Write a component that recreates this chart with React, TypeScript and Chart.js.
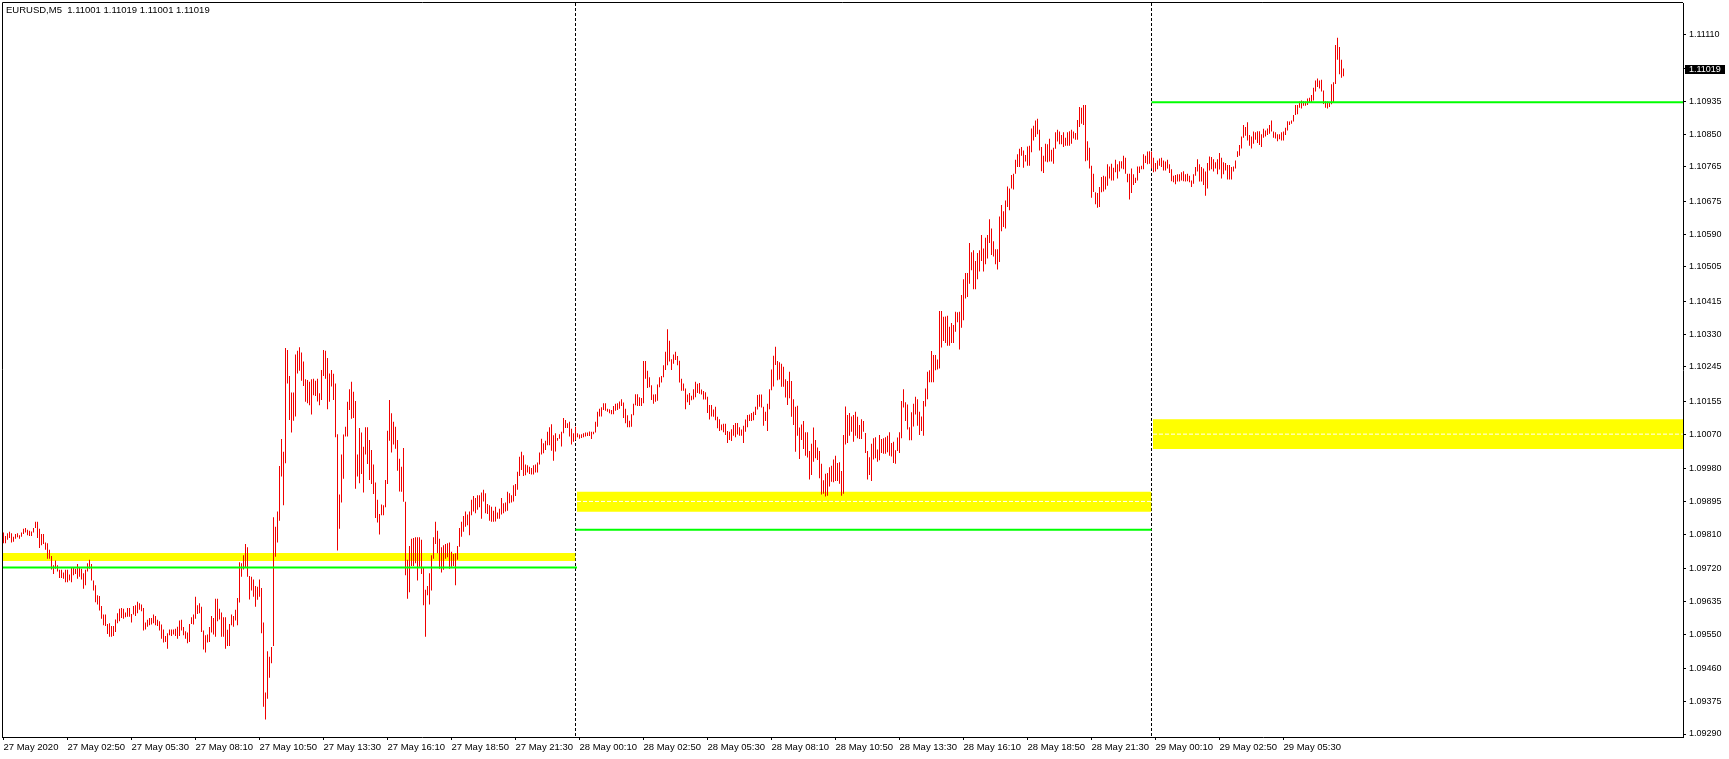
import { useEffect, useRef } from "react";
import { Chart, registerables } from "chart.js";

Chart.register(...registerables);

const TITLE = "EURUSD,M5  1.11001 1.11019 1.11001 1.11019";
const LAST_PRICE = 1.11019;
// bar values are in points (0.00001) above BASE_PRICE
const BASE_PRICE = 1.09;
const POINT = 0.00001;

// bar index = number of 5-minute bars since 27 May 2020 00:00
const day27Start = 2;
const day27High = [
  814,805,812,816,812,803,810,812,807,814,
  824,826,821,819,817,826,842,842,824,810,
  810,788,786,769,753,729,741,729,717,717,
  710,717,717,705,722,724,720,732,722,720,
  708,717,734,743,732,689,677,651,649,623,
  601,601,576,578,571,571,588,604,616,618,
  616,606,618,618,602,623,625,634,630,627,
  618,580,587,592,592,601,597,587,583,575,
  562,545,552,562,562,562,564,569,585,587,
  568,557,554,576,594,601,647,625,630,621,
  559,547,549,568,597,592,642,642,616,606,
  594,594,561,576,601,597,613,644,737,734,
  755,784,776,701,699,692,675,673,692,670,
  580,398,505,491,516,854,829,869,987,1057,
  1024,1294,1289,1221,1178,1178,1277,1287,1296,1282,
  1259,1213,1211,1206,1213,1214,1209,1214,1176,1237,
  1289,1287,1268,1228,1237,1227,1202,1070,913,1017,
  1069,1089,1154,1187,1206,1180,1156,1017,1086,1074,
  1037,1088,1088,1055,1029,991,944,899,862,887,
  885,951,1079,1159,1124,1102,1089,1055,1006,985,
  1034,894,743,779,798,800,802,802,802,795,
  724,665,675,708,755,802,842,819,798,776,
  781,784,786,788,764,758,760,779,826,842,
  857,869,861,869,899,909,904,911,911,918,
  925,916,888,885,881,871,881,866,876,904,
  890,892,920,916,911,937,940,972,1011,1024,
  1015,991,989,985,982,989,991,996,1022,1058,
  1046,1053,1076,1088,1096,1067,1072,1060,1070,1076,
  1112,1107,1098,1102,1084,1072,
];
const day27Low = [
  786,786,795,800,788,790,798,802,798,803,
  810,814,807,805,805,814,826,800,774,781,
  784,769,746,746,718,706,720,713,696,696,
  694,685,685,689,685,703,706,694,699,692,
  668,677,713,720,689,663,633,627,611,590,
  573,571,550,543,543,545,555,578,583,592,
  590,594,595,595,580,601,597,604,613,609,
  559,562,569,573,575,578,573,571,559,538,
  528,529,512,547,545,549,545,538,545,559,
  547,538,526,529,576,575,590,602,604,555,
  510,502,528,529,554,549,543,583,588,543,
  543,512,519,519,573,569,585,573,632,699,
  718,724,699,640,663,647,621,639,647,552,
  361,328,382,436,474,519,751,788,845,960,
  885,994,1202,1107,1074,1105,1116,1228,1235,1209,
  1195,1154,1150,1145,1121,1171,1169,1155,1145,1159,
  1221,1214,1135,1154,1194,1159,1062,767,824,892,
  954,1064,1064,1133,1110,1112,928,960,942,966,
  918,1017,992,951,940,914,852,840,809,859,
  859,880,940,1053,1022,1043,1032,975,921,920,
  894,703,642,659,727,727,734,689,725,706,
  625,543,651,627,663,746,784,760,720,710,
  717,746,750,720,725,727,677,743,777,803,
  816,829,833,807,859,869,864,873,880,850,
  895,864,862,845,842,842,843,850,850,861,
  864,869,871,890,892,895,909,925,961,977,
  961,963,970,966,965,965,970,970,991,1017,
  1020,1029,1041,1041,1027,1001,1025,1053,1058,1038,
  1072,1086,1086,1064,1043,1050,
];

const day28Start = 288;
const day28High = [
  1089,1072,1069,1070,1072,1074,1074,1077,1076,1076,
  1102,1128,1136,1140,1150,1150,1136,1135,1133,1143,
  1149,1150,1155,1161,1152,1136,1119,1105,1122,1149,
  1174,1174,1166,1164,1260,1260,1235,1218,1197,1173,
  1174,1199,1218,1221,1249,1284,1343,1313,1265,1277,
  1284,1273,1261,1214,1202,1189,1173,1177,1170,1187,
  1206,1201,1203,1186,1182,1179,1167,1146,1146,1134,
  1141,1115,1109,1095,1097,1097,1078,1076,1083,1094,
  1099,1099,1088,1082,1092,1108,1120,1121,1125,1128,
  1141,1172,1173,1173,1141,1128,1149,1187,1238,1274,
  1297,1260,1257,1253,1245,1213,1208,1232,1208,1161,
  1141,1144,1087,1095,1104,1075,1075,1026,1045,1087,
  1055,1035,1026,993,950,967,969,984,988,1004,
  1014,995,997,974,1068,1142,1120,1125,1116,1120,
  1128,1115,1094,1109,1104,1073,1026,1010,1045,1059,
  1062,1030,1068,1057,1059,1062,1066,1075,1047,1050,
  1028,1061,1075,1156,1187,1153,1147,1088,1127,1149,
  1167,1161,1128,1116,1156,1189,1232,1236,1286,1276,
  1276,1264,1390,1390,1375,1376,1378,1349,1359,1354,
  1388,1387,1388,1432,1473,1489,1489,1567,1543,1548,
  1520,1541,1548,1588,1553,1581,1588,1629,1605,1572,
  1551,1551,1636,1666,1650,1678,1714,1709,1744,1747,
  1784,1798,1812,1817,1808,1796,1818,1820,1865,1872,
  1886,1890,1862,1817,1794,1825,1824,1838,1810,1815,
  1855,1862,1857,1848,1855,1841,1855,1858,1862,1857,
  1853,1887,1921,1919,1926,1926,1832,1815,1768,1747,
  1699,1697,1713,1739,1742,1740,1772,1766,1773,1763,
  1784,1772,1780,1780,1794,1789,1747,1747,1761,1746,
  1737,1766,1766,1768,1798,1794,1805,1806,
];
const day28Low = [
  1055,1062,1058,1060,1062,1064,1065,1065,1057,1070,
  1074,1089,1116,1116,1133,1131,1128,1124,1122,1122,
  1131,1133,1136,1143,1112,1098,1088,1088,1089,1119,
  1145,1143,1143,1143,1150,1214,1190,1192,1159,1149,
  1154,1157,1192,1204,1218,1237,1249,1259,1237,1253,
  1263,1249,1204,1183,1183,1135,1153,1146,1158,1160,
  1166,1177,1175,1173,1160,1160,1125,1108,1116,1115,
  1106,1085,1078,1080,1075,1068,1047,1055,1052,1066,
  1062,1069,1066,1066,1047,1076,1088,1104,1104,1106,
  1120,1134,1141,1139,1092,1104,1078,1135,1184,1194,
  1250,1210,1212,1193,1193,1165,1146,1163,1115,1094,
  1024,1066,1005,1055,1031,1014,1009,952,964,998,
  1007,1003,955,913,915,908,910,934,946,945,
  948,948,941,910,915,1043,1047,1066,1076,1050,
  1066,1059,1057,1057,1076,1021,952,964,948,1004,
  1007,998,1002,1021,1019,1019,1023,1014,1012,995,
  993,1026,1021,1059,1139,1104,1082,1054,1054,1090,
  1121,1092,1068,1078,1066,1142,1161,1205,1205,1205,
  1236,1238,1241,1295,1312,1307,1300,1300,1307,1307,
  1336,1361,1290,1347,1366,1423,1427,1461,1496,1447,
  1447,1473,1493,1520,1493,1512,1527,1567,1536,1532,
  1512,1498,1518,1598,1609,1605,1661,1652,1709,1706,
  1747,1765,1765,1794,1763,1779,1768,1768,1803,1834,
  1843,1850,1808,1754,1749,1779,1777,1779,1779,1773,
  1812,1831,1824,1824,1817,1820,1820,1820,1825,1839,
  1836,1836,1869,1877,1874,1780,1782,1761,1685,1700,
  1668,1659,1661,1699,1701,1706,1716,1735,1730,1730,
  1751,1735,1753,1761,1759,1747,1725,1680,1697,1718,
  1723,1730,1749,1759,1759,1775,1772,1773,
];

const day29Start = 576;
const day29High = [
  1805,1789,1775,1782,1787,1789,1782,1779,1784,1772,
  1759,1742,1744,1746,1746,1751,1754,1746,1747,1742,
  1730,1746,1765,1785,1772,1765,1761,1753,1775,1792,
  1791,1785,1777,1785,1801,1789,1777,1775,1770,1770,
  1765,1766,1782,1806,1822,1844,1874,1869,1881,1848,
  1844,1857,1855,1858,1858,1850,1864,1860,1865,1874,
  1886,1857,1855,1850,1850,1855,1857,1867,1884,1883,
  1886,1900,1926,1926,1935,1938,1936,1935,1943,1945,
  1952,1971,1990,1995,1990,1992,1964,1936,1935,1933,
  1980,1985,2082,2101,2077,2044,2021,
];
const day29Low = [
  1761,1751,1753,1759,1768,1765,1756,1756,1761,1749,
  1728,1725,1720,1727,1727,1730,1728,1727,1728,1725,
  1713,1721,1742,1753,1727,1727,1718,1690,1709,1756,
  1759,1753,1761,1746,1758,1735,1746,1756,1732,1732,
  1732,1753,1761,1791,1794,1813,1841,1846,1834,1820,
  1813,1825,1836,1827,1822,1817,1841,1844,1848,1851,
  1857,1841,1839,1832,1837,1834,1834,1848,1860,1874,
  1877,1883,1900,1902,1919,1917,1924,1924,1926,1933,
  1933,1938,1961,1973,1969,1961,1929,1919,1917,1921,
  1928,1931,1981,2044,2006,1997,2001,
];

// daily zones (27, 28, 29 May)
const zoneTop = [1.09761, 1.0992, 1.10109];
const zoneBottom = [1.0974, 1.09868, 1.10031];
const zoneMid = [null, 1.09895, 1.1007];
const pivotLevel = [1.09723, 1.09821, 1.10933];

// visible bar range and day boundaries (bar index)
const X_MIN = 1.25;
const X_MAX = 841.75;
const separatorBars = [288, 576];
const zoneFrom = [X_MIN, 288.75, 576.75];
const zoneTo = [288, 576, X_MAX];
const pivotFrom = [X_MIN, 288, 576];
const pivotTo = [288.75, 576, X_MAX];

const Y_MIN = 1.092822;
const Y_MAX = 1.111914;

const xTickBars = [2, 34, 66, 98, 130, 162, 194, 226, 258, 290, 322, 354, 386, 418, 450, 482, 514, 546, 578, 610, 642];
const xTickLabels = [
  "27 May 2020", "27 May 02:50", "27 May 05:30", "27 May 08:10", "27 May 10:50", "27 May 13:30",
  "27 May 16:10", "27 May 18:50", "27 May 21:30", "28 May 00:10", "28 May 02:50", "28 May 05:30",
  "28 May 08:10", "28 May 10:50", "28 May 13:30", "28 May 16:10", "28 May 18:50", "28 May 21:30",
  "29 May 00:10", "29 May 02:50", "29 May 05:30",
];
const yTickValues = [
  1.1111, 1.1102, 1.10935, 1.1085, 1.10765, 1.10675, 1.1059, 1.10505, 1.10415, 1.1033, 1.10245,
  1.10155, 1.1007, 1.0998, 1.09895, 1.0981, 1.0972, 1.09635, 1.0955, 1.0946, 1.09375, 1.0929,
];

const FONT = "'Liberation Sans', Arial, sans-serif";
const toPrice = (p: number) => BASE_PRICE + p * POINT;

export default function App() {
  const ref = useRef<HTMLCanvasElement>(null);

  useEffect(() => {
    document.body.style.margin = "0";
    Chart.defaults.font.family = FONT;
    const bars: any[] = [];
    const days: [number, number[], number[]][] = [
      [day27Start, day27High, day27Low],
      [day28Start, day28High, day28Low],
      [day29Start, day29High, day29Low],
    ];
    for (const [start, highs, lows] of days) {
      highs.forEach((h, k) => bars.push({ x: start + k, y: [toPrice(lows[k]), toPrice(h)] }));
    }

    const datasets: any[] = [];
    for (let d = 0; d < 3; d++) {
      datasets.push({
        type: "line",
        data: [{ x: zoneFrom[d], y: zoneTop[d] }, { x: zoneTo[d], y: zoneTop[d] }],
        borderColor: "rgba(0,0,0,0)", borderWidth: 0, pointRadius: 0, fill: false, order: 5,
      });
      datasets.push({
        type: "line",
        data: [{ x: zoneFrom[d], y: zoneBottom[d] }, { x: zoneTo[d], y: zoneBottom[d] }],
        borderColor: "rgba(0,0,0,0)", borderWidth: 0, pointRadius: 0, fill: "-1",
        backgroundColor: "#ffff00", order: 5,
      });
      const mid = zoneMid[d];
      if (mid != null) {
        datasets.push({
          type: "line",
          data: [{ x: zoneFrom[d], y: mid }, { x: zoneTo[d], y: mid }],
          borderColor: "#ffffff", borderWidth: 1, borderDash: [4, 2], pointRadius: 0, fill: false, order: 4,
        });
      }
    }
    datasets.push({
      type: "bar",
      data: bars,
      backgroundColor: "#f00000",
      borderWidth: 0,
      barThickness: 1,
      inflateAmount: 0,
      grouped: false,
      order: 2,
    });
    for (let d = 0; d < 3; d++) {
      datasets.push({
        type: "line",
        data: [{ x: pivotFrom[d], y: pivotLevel[d] }, { x: pivotTo[d], y: pivotLevel[d] }],
        borderColor: "#00ff00", borderWidth: 2, pointRadius: 0, fill: false, order: 1,
      });
    }

    const decor = {
      id: "decor",
      beforeDatasetsDraw(chart: any) {
        const { ctx, chartArea, scales } = chart;
        ctx.save();
        ctx.strokeStyle = "#000";
        ctx.lineWidth = 1;
        ctx.setLineDash([3, 2]);
        for (const b of separatorBars) {
          const px = scales.x.getPixelForValue(b);
          ctx.beginPath();
          ctx.moveTo(px, chartArea.top);
          ctx.lineTo(px, chartArea.bottom);
          ctx.stroke();
        }
        ctx.restore();
      },
      afterDraw(chart: any) {
        const { ctx, chartArea, scales } = chart;
        ctx.save();
        // frame
        ctx.strokeStyle = "#000";
        ctx.lineWidth = 1;
        ctx.beginPath();
        ctx.moveTo(chartArea.left + 0.5, chartArea.bottom);
        ctx.lineTo(chartArea.left + 0.5, chartArea.top - 0.5);
        ctx.lineTo(chartArea.right, chartArea.top - 0.5);
        ctx.stroke();
        // title
        ctx.fillStyle = "#000";
        ctx.font = `9.5px ${FONT}`;
        ctx.textBaseline = "middle";
        ctx.textAlign = "left";
        ctx.fillText(TITLE, chartArea.left + 4, chartArea.top + 7);
        // last price box
        const py = Math.round(scales.y.getPixelForValue(LAST_PRICE));
        ctx.fillStyle = "#000";
        ctx.fillRect(chartArea.right + 2, py - 4, 40, 9);
        ctx.fillStyle = "#fff";
        ctx.font = `9px ${FONT}`;
        ctx.fillText(LAST_PRICE.toFixed(5), chartArea.right + 6, py + 0.5);
        ctx.restore();
      },
    };

    const chart = new Chart(ref.current as HTMLCanvasElement, {
      type: "bar",
      data: { datasets },
      options: {
        animation: false,
        responsive: false,
        devicePixelRatio: 1,
        layout: { padding: { left: 2, top: 3, right: 0, bottom: 0 } },
        plugins: { legend: { display: false }, tooltip: { enabled: false } },
        scales: {
          x: {
            type: "linear",
            min: X_MIN,
            max: X_MAX,
            offset: false,
            grid: { drawOnChartArea: false, drawTicks: true, tickLength: 3, tickColor: "#000", offset: false },
            border: { display: true, color: "#000" },
            ticks: {
              autoSkip: false,
              maxRotation: 0,
              minRotation: 0,
              align: "start",
              labelOffset: 0,
              padding: 2,
              color: "#000",
              font: { size: 9.5, family: FONT },
              callback: (_v: any, i: number) => xTickLabels[i] ?? "",
            },
            afterBuildTicks: (s: any) => {
              s.ticks = xTickBars.map((v) => ({ value: v }));
            },
            afterFit: (s: any) => {
              s.height = 22;
              s.paddingLeft = 0;
              s.paddingRight = 0;
            },
          },
          y: {
            type: "linear",
            position: "right",
            min: Y_MIN,
            max: Y_MAX,
            grid: { drawOnChartArea: false, drawTicks: true, tickLength: 3, tickColor: "#000" },
            border: { display: true, color: "#000" },
            ticks: {
              autoSkip: false,
              padding: 3,
              color: "#000",
              font: { size: 9, family: FONT },
              callback: (v: any) => Number(v).toFixed(5),
            },
            afterBuildTicks: (s: any) => {
              s.ticks = yTickValues.map((v) => ({ value: v }));
            },
            afterFit: (s: any) => {
              s.width = 46;
              s.paddingTop = 0;
              s.paddingBottom = 0;
            },
          },
        },
      } as any,
      plugins: [decor],
    });
    return () => chart.destroy();
  }, []);

  return (
    <div style={{ position: "absolute", left: 0, top: 0, width: 1729, height: 759, background: "#fff" }}>
      <canvas ref={ref} width={1729} height={759} style={{ display: "block", width: 1729, height: 759 }} />
    </div>
  );
}
